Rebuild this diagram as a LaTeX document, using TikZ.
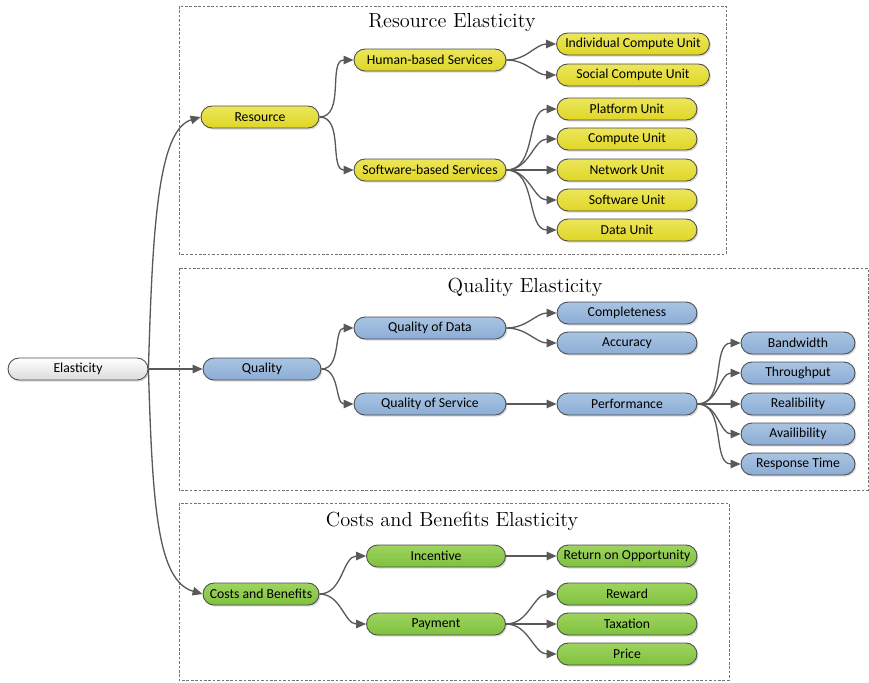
\documentclass[tikz,border=0pt]{standalone}
\usepackage{fontspec}
\newfontfamily\boxfont{Carlito}
\usepackage{xcolor}
\usepackage{tikz}
\usetikzlibrary{arrows.meta, positioning, shadows, calc}

\definecolor{restop}{HTML}{ECE65C}
\definecolor{resbot}{HTML}{DFD624}
\definecolor{qualtop}{HTML}{A9C4E3}
\definecolor{qualbot}{HTML}{8CADD5}
\definecolor{costtop}{HTML}{9ED45E}
\definecolor{costbot}{HTML}{7FC13E}

\begin{document}
\begin{tikzpicture}[
    x=0.02cm, y=-0.02cm,
    box/.style={rectangle, draw=black!70, line width=0.5pt, rounded corners=0.22cm,
                minimum height=0.44cm, inner sep=1pt, align=center,
                font=\boxfont\fontsize{7.8}{9}\selectfont,
                drop shadow={shadow xshift=0.8pt, shadow yshift=-0.9pt, opacity=0.3}},
    rootbox/.style={box, top color=white, bottom color=black!14, minimum width=2.8cm},
    resbox/.style={box, top color=restop, bottom color=resbot},
    qualbox/.style={box, top color=qualtop, bottom color=qualbot},
    costbox/.style={box, top color=costtop, bottom color=costbot},
    frame/.style={draw=black!55, line width=0.4pt, dash pattern=on 1.5pt off 1pt},
    title/.style={font=\fontsize{11.6}{13}\selectfont},
    arr/.style={-{Triangle[length=2mm, width=1.7mm]}, draw=black!65, line width=0.75pt},
]
    \useasboundingbox (0,0) rectangle (869,683);

    % Frames
    \draw[frame] (179,6) rectangle (726,254);
    \draw[frame] (179,268) rectangle (868,490);
    \draw[frame] (179,503) rectangle (729,680);
    \node[title] (restitle)  at (452,23)  {Resource Elasticity};
    \node[title] (qualtitle) at (525,287) {Quality Elasticity};
    \node[title] (costtitle) at (452,521) {Costs and Benefits Elasticity};

    % Root
    \node[rootbox] (elast) at (78,369) {Elasticity};

    % Resource elasticity
    \node[resbox, minimum width=2.36cm] (res)   at (260,117) {Resource};
    \node[resbox, minimum width=3.04cm] (human) at (430,60)  {Human-based Services};
    \node[resbox, minimum width=3.04cm] (soft)  at (430,170) {Software-based Services};
    \node[resbox, minimum width=3.06cm] (icu)   at (633,44)  {Individual Compute Unit};
    \node[resbox, minimum width=3.06cm] (scu)   at (633,75)  {Social Compute Unit};
    \node[resbox, minimum width=2.8cm]  (plat)  at (627,109) {Platform Unit};
    \node[resbox, minimum width=2.8cm]  (comp)  at (627,139) {Compute Unit};
    \node[resbox, minimum width=2.8cm]  (net)   at (627,170) {Network Unit};
    \node[resbox, minimum width=2.8cm]  (swu)   at (627,200) {Software Unit};
    \node[resbox, minimum width=2.8cm]  (data)  at (627,230) {Data Unit};

    % Quality elasticity
    \node[qualbox, minimum width=2.36cm] (qual)  at (262,369) {Quality};
    \node[qualbox, minimum width=3.04cm] (qod)   at (430,328) {Quality of Data};
    \node[qualbox, minimum width=3.04cm] (qos)   at (430,404) {Quality of Service};
    \node[qualbox, minimum width=2.8cm]  (compl) at (627,313) {Completeness};
    \node[qualbox, minimum width=2.8cm]  (acc)   at (627,343) {Accuracy};
    \node[qualbox, minimum width=2.8cm]  (perf)  at (627,404) {Performance};
    \node[qualbox, minimum width=2.28cm] (band)  at (798,343) {Bandwidth};
    \node[qualbox, minimum width=2.28cm] (thr)   at (798,373) {Throughput};
    \node[qualbox, minimum width=2.28cm] (rel)   at (798,404) {Realibility};
    \node[qualbox, minimum width=2.28cm] (avail) at (798,434) {Availibility};
    \node[qualbox, minimum width=2.28cm] (resp)  at (798,464) {Response Time};

    % Costs and benefits elasticity
    \node[costbox, minimum width=2.32cm] (cost)  at (261,594) {Costs and Benefits};
    \node[costbox, minimum width=2.78cm] (inc)   at (436,556) {Incentive};
    \node[costbox, minimum width=2.78cm] (pay)   at (436,624) {Payment};
    \node[costbox, minimum width=2.8cm]  (roo)   at (627,556) {Return on Opportunity};
    \node[costbox, minimum width=2.8cm]  (rew)   at (627,594) {Reward};
    \node[costbox, minimum width=2.8cm]  (tax)   at (627,624) {Taxation};
    \node[costbox, minimum width=2.8cm]  (price) at (627,654) {Price};

    % Arrows: root -> categories
    \draw[arr] (elast.east) -- (qual.west);
    \draw[arr] (elast.east) .. controls +(4,-138) and +(-43,13) .. (res.west);
    \draw[arr] (elast.east) .. controls +(4,138) and +(-45,-13) .. (cost.west);

    % Arrows: parent -> child
    \foreach \from/\to in {res/human, res/soft, human/icu, human/scu,
                           soft/plat, soft/comp, soft/net, soft/swu, soft/data,
                           qual/qod, qual/qos, qod/compl, qod/acc, qos/perf,
                           perf/band, perf/thr, perf/rel, perf/avail, perf/resp,
                           cost/inc, cost/pay, inc/roo, pay/rew, pay/tax, pay/price} {
        \draw[arr] (\from.east) to[out=0, in=180] (\to.west);
    }
\end{tikzpicture}
\end{document}
